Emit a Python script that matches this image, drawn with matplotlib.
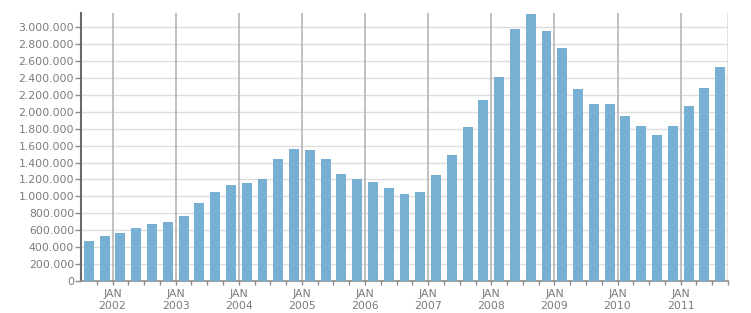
import matplotlib.pyplot as plt
from matplotlib.ticker import FuncFormatter

# quarterly values, Q3 2001 .. Q4 2011
values = [475000, 535000, 569000, 627000, 675000, 698000, 769000, 922000,
          1053000, 1139000, 1163000, 1210000, 1440000, 1556000, 1545000, 1440000,
          1260000, 1200000, 1176000, 1101000, 1028000, 1053000, 1248000, 1487000,
          1815000, 2134000, 2415000, 2980000, 3158000, 2960000, 2756000, 2275000,
          2098000, 2098000, 1956000, 1827000, 1721000, 1827000, 2063000, 2287000,
          2534000]
years = ["2002", "2003", "2004", "2005", "2006", "2007", "2008", "2009", "2010", "2011"]

text_col = '#7a7a80'
bar_col = '#77b0d3'

fig = plt.figure(figsize=(7.51, 3.13), dpi=100)
ax = fig.add_axes([81 / 751, 1 - 281 / 313, 647 / 751, 268 / 313])

x = list(range(len(values)))
ax.bar(x, values, width=0.63, color=bar_col, zorder=3)

ax.set_xlim(-0.5, 40.5)
ax.set_ylim(0, 3168000)

# horizontal grid
yticks = list(range(0, 3000001, 200000))
ax.set_yticks(yticks)
ax.yaxis.set_major_formatter(FuncFormatter(lambda v, p: f"{int(v):,}".replace(",", ".")))
for y in yticks[1:]:
    ax.axhline(y, color='#dddddd', lw=1, zorder=1)

# year lines at january
jan_pos = [1.5 + 4 * i for i in range(len(years))]
for xp in jan_pos:
    ax.axvline(xp, color='#b5b5b5', lw=1.2, zorder=2)
ax.axvline(40.5, color='#dddddd', lw=1.2, zorder=2)

ax.set_xticks(jan_pos)
ax.set_xticklabels(["JAN\n" + y for y in years], linespacing=1.25)
ax.set_xticks([0.5 + i for i in range(41)], minor=True)

for s in ['top', 'right']:
    ax.spines[s].set_visible(False)
ax.spines['left'].set_color('#6a6a6a')
ax.spines['left'].set_linewidth(1.5)
ax.spines['bottom'].set_color('#8a8a8a')
ax.spines['bottom'].set_linewidth(1.2)

ax.tick_params(axis='y', length=4, width=1, color='#8a8a8a', labelsize=7.8,
               labelcolor=text_col, pad=1)
ax.tick_params(axis='x', which='both', length=3, width=1, color='#8a8a8a',
               labelsize=7.8, labelcolor=text_col, pad=3)

fig.savefig('out.png', dpi=100)
